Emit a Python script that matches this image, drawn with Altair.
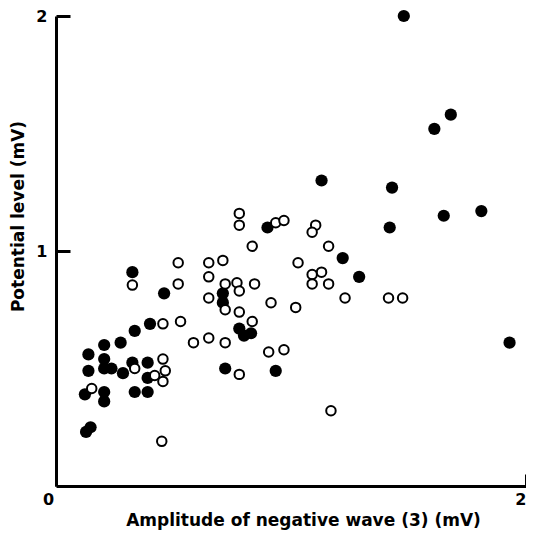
import altair as alt
import pandas as pd

# Filled circles
filled_x = [1.48, 1.68, 1.61, 1.13, 1.43, 1.81, 1.65, 1.42, 0.90, 1.22, 1.29,
            0.325, 0.46, 0.71, 0.71, 0.40, 0.335, 0.78, 0.80, 0.83, 0.275, 0.205,
            0.138, 0.205, 0.325, 0.39, 0.138, 0.205, 0.236, 0.285, 0.39, 0.72, 0.935,
            0.123, 0.205, 0.205, 0.335, 0.39, 0.147, 0.128, 1.93]
filled_y = [2.00, 1.58, 1.52, 1.30, 1.27, 1.17, 1.15, 1.10, 1.10, 0.97, 0.89,
            0.91, 0.82, 0.82, 0.78, 0.69, 0.66, 0.67, 0.64, 0.65, 0.61, 0.60,
            0.56, 0.54, 0.525, 0.525, 0.49, 0.50, 0.50, 0.48, 0.46, 0.50, 0.49,
            0.39, 0.40, 0.36, 0.40, 0.40, 0.25, 0.23, 0.61]

# Open circles
open_x = [0.78, 0.78, 0.935, 0.97, 1.105, 1.09, 0.835, 1.16, 0.52, 0.65, 0.71,
          1.03, 1.09, 1.13, 1.09, 1.16, 0.52, 0.325, 0.65, 0.72, 0.77, 0.78,
          0.845, 0.65, 0.72, 0.78, 0.915, 1.02, 1.23, 1.415, 1.475, 0.455, 0.53,
          0.835, 0.585, 0.65, 0.72, 0.905, 0.97, 0.78, 0.455, 0.465, 0.42,
          0.455, 0.152, 0.335, 0.45, 1.17]
open_y = [1.16, 1.11, 1.12, 1.13, 1.11, 1.08, 1.02, 1.02, 0.95, 0.95, 0.96,
          0.95, 0.90, 0.91, 0.86, 0.86, 0.86, 0.855, 0.89, 0.86, 0.865, 0.83,
          0.86, 0.80, 0.75, 0.74, 0.78, 0.76, 0.80, 0.80, 0.80, 0.69, 0.70,
          0.70, 0.61, 0.63, 0.61, 0.57, 0.58, 0.475, 0.54, 0.49, 0.47,
          0.445, 0.415, 0.50, 0.19, 0.32]

x_tick_values = [0, 1, 2]
y_tick_values = [1, 2]

W, H = 470, 470
FONT = "DejaVu Sans"

filled = pd.DataFrame({"x": filled_x, "y": filled_y})
opened = pd.DataFrame({"x": open_x, "y": open_y})

xscale = alt.Scale(domain=[0, 2], nice=False)
yscale = alt.Scale(domain=[0, 2], nice=False)

# inward ticks: negative tick size passed as an expression
xaxis = alt.Axis(
    values=x_tick_values, format="d", grid=False,
    ticks=True, tickSize={"expr": "-12"}, tickWidth=3, tickColor="black",
    domainColor="black", domainWidth=3,
    labelFont=FONT, labelFontSize=16, labelFontWeight="bold", labelColor="black",
    labelPadding=17,
    labelOffset={"condition": {"test": "datum.value == 0", "value": -8},
                 "value": 0},
    labelAlign={"condition": {"test": "datum.value == 2", "value": "right"},
                "value": "center"},
    title="Amplitude of negative wave (3) (mV)",
    titleFont=FONT, titleFontSize=17, titleFontWeight="bold", titleColor="black",
    titlePadding=5, titleX=247,
)
yaxis = alt.Axis(
    values=y_tick_values, format="d", grid=False,
    ticks=True, tickSize={"expr": "-14"}, tickWidth=3, tickColor="black",
    domainColor="black", domainWidth=3,
    labelFont=FONT, labelFontSize=16, labelFontWeight="bold", labelColor="black",
    labelPadding=23,
    title="Potential level (mV)",
    titleFont=FONT, titleFontSize=17, titleFontWeight="bold", titleColor="black",
    titlePadding=8, titleY=200,
)

base_f = alt.Chart(filled).mark_point(
    shape="circle", filled=True, fill="black", size=150, strokeWidth=0, opacity=1
).encode(
    x=alt.X("x:Q", scale=xscale, axis=xaxis),
    y=alt.Y("y:Q", scale=yscale, axis=yaxis),
)

base_o = alt.Chart(opened).mark_point(
    shape="circle", filled=False, fill="white", fillOpacity=1, stroke="black",
    strokeWidth=2, size=90, opacity=1
).encode(
    x=alt.X("x:Q", scale=xscale),
    y=alt.Y("y:Q", scale=yscale),
)

chart = alt.layer(base_f, base_o).properties(
    width=W, height=H,
    background="white",
    autosize=alt.AutoSizeParams(type="none"),
    padding={"left": 48, "top": 8, "right": 0, "bottom": 46},
).configure_view(stroke=None)

chart.save("out.html", embed_options={"renderer": "svg", "actions": False})
